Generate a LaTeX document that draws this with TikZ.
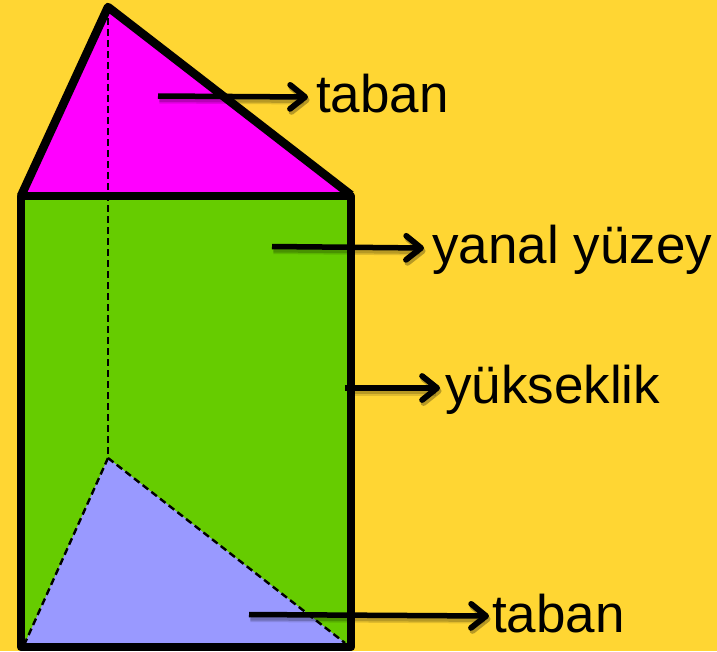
\documentclass[tikz,border=0pt]{standalone}
\usepackage{fontspec}
\setmainfont{Liberation Sans}
\usetikzlibrary{arrows.meta}
\definecolor{bgyellow}{HTML}{FFD633}
\definecolor{topmag}{HTML}{FF00FF}
\definecolor{sidegreen}{HTML}{66CC00}
\definecolor{basepurple}{HTML}{9999FF}
\tikzset{
  x=1pt,y=-1pt,
  outline/.style={draw=black,line width=8.5pt,line join=round},
  hidden/.style={draw=black,line width=2.4pt,dash pattern=on 7pt off 4pt},
  tag/.style={anchor=west,inner sep=0pt,inner xsep=8pt,text height=30pt,text depth=0pt,font=\fontsize{53}{53}\selectfont},
  pointtip/.tip={Straight Barb[length=15pt,width=24pt,round,line width=5.8pt]},
  pointer/.style={draw=black,line width=5.5pt,-{pointtip},
    preaction={draw=black,draw opacity=.12,line width=9pt,-{pointtip},transform canvas={shift={(1.5pt,-3pt)}}},
    preaction={draw=black,draw opacity=.18,line width=6pt,-{pointtip},transform canvas={shift={(1.5pt,-3pt)}}}},
}
\begin{document}
\begin{tikzpicture}
\fill[bgyellow] (0,0) rectangle (717,651);
\useasboundingbox (0,0) rectangle (717,651);
\coordinate (apex) at (108,7);
\coordinate (topl) at (21,196);
\coordinate (topr) at (351,195);
\coordinate (botl) at (21,647);
\coordinate (botr) at (351,647);
\coordinate (inner) at (108,458);
\coordinate (innerl) at (25,643);
\coordinate (innerr) at (345,643);
\fill[topmag] (apex) -- (topl) -- (topr) -- cycle;
\fill[sidegreen] (topl) rectangle (botr);
\fill[basepurple] (inner) -- (innerl) -- (innerr) -- cycle;
\draw[hidden] (apex) -- (inner);
\draw[hidden] (inner) -- (innerl);
\draw[hidden] (inner) -- (innerr);
\draw[outline] (topl) -- (apex) -- (topr);
\draw[outline] (topl) rectangle (botr);
\node[tag] (t1) at (308,97) {taban};
\node[tag] (t2) at (424,248) {yanal yüzey};
\node[tag,inner xsep=5pt] (t3) at (440,388) {yükseklik};
\node[tag,inner xsep=3pt,text height=32pt] (t4) at (489,616) {taban};
\coordinate (s1) at (158,96);
\coordinate (s2) at (272,246.5);
\coordinate (s3) at (345,388);
\coordinate (s4) at (249,614.5);
\draw[pointer] (s1) -- (t1.west);
\draw[pointer] (s2) -- (t2.west);
\draw[pointer] (s3) -- (t3.west);
\draw[pointer] (s4) -- (t4.west);
\end{tikzpicture}
\end{document}
